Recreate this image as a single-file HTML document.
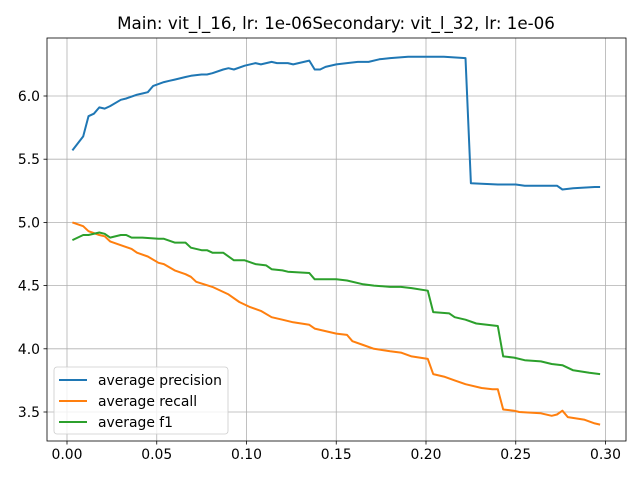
<!DOCTYPE html>
<html><head><meta charset="utf-8"><style>
body{margin:0;background:#fff}
svg text{font-family:"DejaVu Sans","Liberation Sans",sans-serif}
</style></head><body>
<svg id="c" width="640" height="480" xmlns="http://www.w3.org/2000/svg"></svg>
<script>
const xTicks=[0.00,0.05,0.10,0.15,0.20,0.25,0.30];
const xTickLabels=["0.00","0.05","0.10","0.15","0.20","0.25","0.30"];
const yTicks=[3.5,4.0,4.5,5.0,5.5,6.0];
const yTickLabels=["3.5","4.0","4.5","5.0","5.5","6.0"];
const precX=[0.003,0.009,0.012,0.015,0.018,0.021,0.024,0.030,0.033,0.039,0.042,0.045,0.048,0.054,0.057,0.060,0.066,0.069,0.075,0.078,0.081,0.087,0.090,0.093,0.099,0.105,0.108,0.114,0.117,0.123,0.126,0.132,0.135,0.138,0.141,0.144,0.150,0.156,0.162,0.168,0.174,0.180,0.190,0.200,0.210,0.222,0.225,0.240,0.250,0.255,0.270,0.273,0.276,0.282,0.294,0.297];
const precY=[5.57,5.68,5.84,5.86,5.91,5.90,5.92,5.97,5.98,6.01,6.02,6.03,6.08,6.11,6.12,6.13,6.15,6.16,6.17,6.17,6.18,6.21,6.22,6.21,6.24,6.26,6.25,6.27,6.26,6.26,6.25,6.27,6.28,6.21,6.21,6.23,6.25,6.26,6.27,6.27,6.29,6.30,6.31,6.31,6.31,6.30,5.31,5.30,5.30,5.29,5.29,5.29,5.26,5.27,5.28,5.28];
const recX=[0.003,0.009,0.012,0.018,0.021,0.024,0.030,0.036,0.039,0.045,0.051,0.054,0.060,0.066,0.069,0.072,0.081,0.090,0.096,0.102,0.108,0.114,0.120,0.126,0.135,0.138,0.150,0.156,0.159,0.165,0.171,0.180,0.186,0.192,0.201,0.204,0.210,0.216,0.222,0.231,0.237,0.240,0.243,0.249,0.252,0.264,0.270,0.273,0.276,0.279,0.288,0.294,0.297];
const recY=[5.00,4.97,4.93,4.90,4.89,4.85,4.82,4.79,4.76,4.73,4.68,4.67,4.62,4.59,4.57,4.53,4.49,4.43,4.37,4.33,4.30,4.25,4.23,4.21,4.19,4.16,4.12,4.11,4.06,4.03,4.00,3.98,3.97,3.94,3.92,3.80,3.78,3.75,3.72,3.69,3.68,3.68,3.52,3.51,3.50,3.49,3.47,3.48,3.51,3.46,3.44,3.41,3.40];
const f1X=[0.003,0.009,0.012,0.018,0.021,0.024,0.030,0.033,0.036,0.042,0.051,0.054,0.060,0.066,0.069,0.075,0.078,0.081,0.087,0.093,0.099,0.105,0.111,0.114,0.120,0.123,0.135,0.138,0.150,0.156,0.165,0.171,0.180,0.186,0.192,0.201,0.204,0.213,0.216,0.222,0.228,0.234,0.240,0.243,0.249,0.255,0.264,0.270,0.276,0.282,0.291,0.297];
const f1Y=[4.86,4.90,4.90,4.92,4.91,4.88,4.90,4.90,4.88,4.88,4.87,4.87,4.84,4.84,4.80,4.78,4.78,4.76,4.76,4.70,4.70,4.67,4.66,4.63,4.62,4.61,4.60,4.55,4.55,4.54,4.51,4.50,4.49,4.49,4.48,4.46,4.29,4.28,4.25,4.23,4.20,4.19,4.18,3.94,3.93,3.91,3.90,3.88,3.87,3.83,3.81,3.80];

const svg=document.getElementById('c');
const NS='http://www.w3.org/2000/svg';
const L=47,R=626,T=38,B=441;
function sx(v){return 67+v*(89.75/0.05);}
function sy(v){return 96-(v-6.0)*126.4;}
function mk(tag,attrs,parent){const e=document.createElementNS(NS,tag);for(const k in attrs)e.setAttribute(k,attrs[k]);(parent||svg).appendChild(e);return e;}

const grid=mk('g',{});


xTicks.forEach((t,i)=>{
  const x=sx(t);
  const gl=mk('line',{x1:x,x2:x,y1:T,y2:B,stroke:'#b0b0b0','stroke-width':0.8},grid);
  
  
  const tk=mk('line',{x1:x,x2:x,y1:B,y2:B+3.5,stroke:'#000','stroke-width':0.8});
  
  
  const tx=mk('text',{x:x,y:B+18,'font-size':'13.9px','text-anchor':'middle',fill:'#000'});
  tx.textContent=xTickLabels[i];
  
  
});
yTicks.forEach((t,i)=>{
  const y=sy(t);
  const gl=mk('line',{x1:L,x2:R,y1:y,y2:y,stroke:'#b0b0b0','stroke-width':0.8},grid);
  
  
  const tk=mk('line',{x1:L-3.5,x2:L,y1:y,y2:y,stroke:'#000','stroke-width':0.8});
  
  
  const tx=mk('text',{x:L-7,y:y+5,'font-size':'13.9px','text-anchor':'end',fill:'#000'});
  tx.textContent=yTickLabels[i];
  
  
});
function series(xs,ys,color,name){
  const d=xs.map((x,i)=>(i?'L':'M')+sx(x).toFixed(1)+','+sy(ys[i]).toFixed(1)).join(' ');
  const p=mk('path',{d:d,fill:'none',stroke:color,'stroke-width':2,'stroke-linejoin':'round'});
  
  
}
series(precX,precY,'#1f77b4','precision-line');
series(recX,recY,'#ff7f0e','recall-line');
series(f1X,f1Y,'#2ca02c','f1-line');
const fr=mk('rect',{x:L,y:T,width:R-L,height:B-T,fill:'none',stroke:'#000','stroke-width':0.8});


const ti=mk('text',{x:336,y:29,'font-size':'16.7px','text-anchor':'middle',fill:'#000'});
ti.textContent='Main: vit_l_16, lr: 1e-06Secondary: vit_l_32, lr: 1e-06';


const lg=mk('g',{});


mk('rect',{x:54,y:367,width:174,height:67,rx:3,fill:'#fff','fill-opacity':0.8,stroke:'#ccc','stroke-width':0.8},lg);
const entries=[['average precision','#1f77b4'],['average recall','#ff7f0e'],['average f1','#2ca02c']];
entries.forEach((e,i)=>{
  const y=380+i*21;
  const ln=mk('line',{x1:59,x2:87,y1:y,y2:y,stroke:e[1],'stroke-width':2},lg);
  
  
  const t=mk('text',{x:98,y:y+5,'font-size':'13.9px',fill:'#000'},lg);
  t.textContent=e[0];
  
  
});
</script>
</body></html>
